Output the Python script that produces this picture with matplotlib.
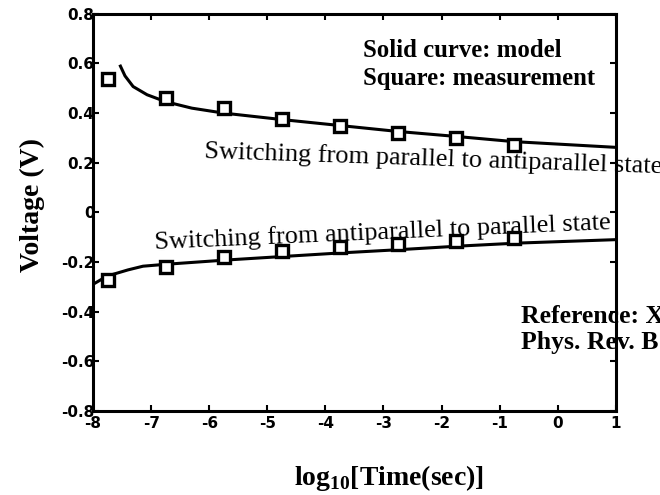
import matplotlib
matplotlib.use("Agg")
import matplotlib.pyplot as plt

# model curves
up_model_x = [-7.54, -7.45, -7.31, -7.07, -6.75, -6.3, -5.75, -4.75, -3.75, -2.75, -1.75, -0.75, 1.0]
up_model_y = [0.595, 0.55, 0.507, 0.474, 0.446, 0.42, 0.40, 0.374, 0.35, 0.326, 0.306, 0.285, 0.262]
lo_model_x = [-8.0, -7.76, -7.4, -7.14, -6.73, -5.70, -4.74, -3.7, -2.7, -1.7, -0.7, 1.0]
lo_model_y = [-0.29, -0.257, -0.232, -0.217, -0.209, -0.192, -0.178, -0.163, -0.150, -0.136, -0.124, -0.110]

# measurements (squares)
meas_x = [-7.75, -6.75, -5.75, -4.75, -3.75, -2.75, -1.75, -0.75]
up_meas_y = [0.539, 0.46, 0.42, 0.375, 0.35, 0.32, 0.30, 0.273]
lo_meas_y = [-0.273, -0.221, -0.181, -0.157, -0.141, -0.129, -0.117, -0.105]

xticks = list(range(-8, 2))
yticks = [0.8, 0.6, 0.4, 0.2, 0, -0.2, -0.4, -0.6, -0.8]
yticklabels = ["0.8", "0.6", "0.4", "0.2", "0", "-0.2", "-0.4", "-0.6", "-0.8"]

serif = ["Liberation Serif", "DejaVu Serif"]
plt.rcParams["mathtext.fontset"] = "custom"
plt.rcParams["mathtext.rm"] = "Liberation Serif"
plt.rcParams["mathtext.bf"] = "Liberation Serif:bold"

fig = plt.figure(figsize=(6.6, 4.95), dpi=100)
ax = fig.add_axes([0.141, 0.170, 0.792, 0.802])

ax.plot(up_model_x, up_model_y, color="black", lw=2.2, solid_capstyle="butt")
ax.plot(lo_model_x, lo_model_y, color="black", lw=2.2, solid_capstyle="butt")
ax.plot(meas_x, up_meas_y, ls="none", marker="s", ms=8.5, mfc="white", mec="black", mew=2.4)
ax.plot(meas_x, lo_meas_y, ls="none", marker="s", ms=8.5, mfc="white", mec="black", mew=2.4)

ax.set_xlim(-8, 1)
ax.set_ylim(-0.8, 0.8)
ax.set_xticks(xticks)
ax.set_xticklabels([str(t) for t in xticks])
ax.set_yticks(yticks)
ax.set_yticklabels(yticklabels)
ax.tick_params(direction="in", length=4, width=1.5, top=True, right=True)
ax.tick_params(axis="x", pad=4)
ax.tick_params(axis="y", pad=-1)
for lab in ax.get_xticklabels() + ax.get_yticklabels():
    lab.set_family("DejaVu Sans")
    lab.set_fontweight("bold")
    lab.set_fontsize(11)
for sp in ax.spines.values():
    sp.set_linewidth(2.2)
    sp.set_zorder(5)

ax.text(-3.36, 0.627, "Solid curve: model", family=serif, weight="bold", fontsize=17.8)
ax.text(-3.36, 0.515, "Square: measurement", family=serif, weight="bold", fontsize=17.8)

ax.text(-6.08, 0.221, "Switching from parallel to antiparallel state", family=serif,
        fontsize=19, rotation=-1.9, rotation_mode="anchor", clip_on=False, zorder=2)
ax.text(-6.93, -0.149, "Switching from antiparallel to parallel state", family=serif,
        fontsize=18.9, rotation=2.5, rotation_mode="anchor", clip_on=False, zorder=2)

ax.text(-0.63, -0.446, "Reference: X", family=serif, weight="bold", fontsize=18.5,
        clip_on=False, zorder=2)
ax.text(-0.63, -0.55, "Phys. Rev. B", family=serif, weight="bold", fontsize=18.5,
        clip_on=False, zorder=2)

fig.text(389 / 660, 1 - 485 / 495, r"log$_{\mathbf{10}}$[Time(sec)]", family=serif,
         weight="bold", fontsize=20, ha="center", va="baseline")
fig.text(32 / 660, 1 - 205 / 495, "Voltage (V)", family=serif, weight="bold",
         fontsize=20, rotation=90, ha="center", va="center")

fig.savefig("out.png", dpi=100)
